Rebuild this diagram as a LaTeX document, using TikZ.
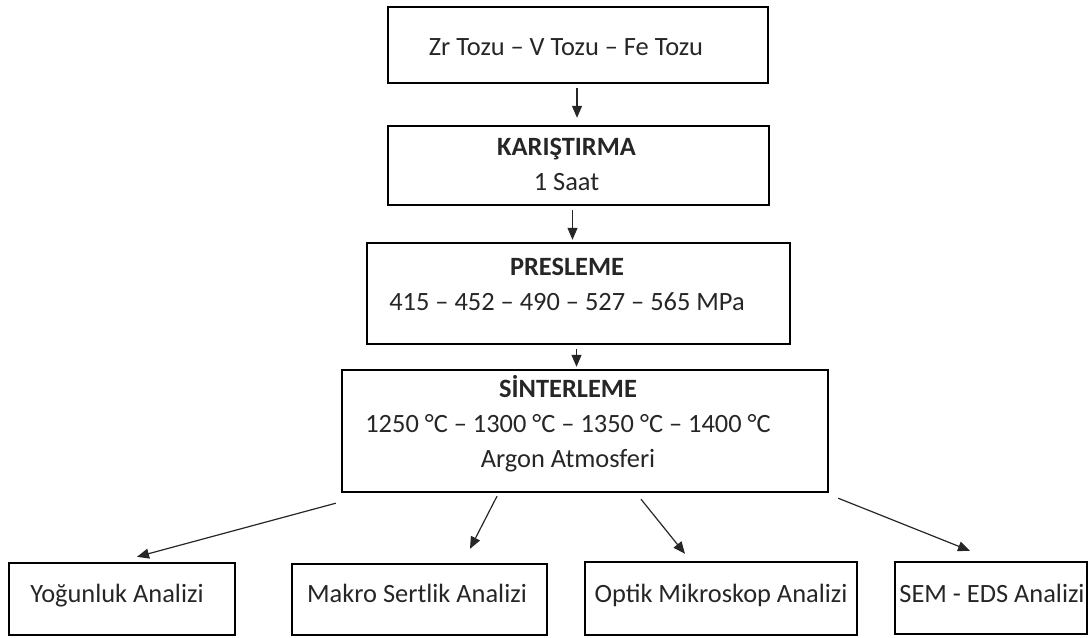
\documentclass[tikz,border=0pt]{standalone}
\usepackage{fontspec}
\setmainfont{Carlito}
\usetikzlibrary{arrows.meta}
\begin{document}
\begin{tikzpicture}[x=1pt,y=-1pt,
  box/.style={draw=black, line width=2.4pt, rectangle, inner sep=0pt},
  txt/.style={inner sep=0pt, align=center, font=\fontsize{26.4}{35}\selectfont, text=black!85},
  one/.style={txt, text height=18pt, text depth=5pt},
  arr/.style={draw=black!85, line width=1.2pt, -{Triangle[length=12pt,width=10pt]}}]
\useasboundingbox (0,0) rectangle (1089,637);
% boxes
\node[box, minimum width=380pt, minimum height=76pt] (b1) at (578,45) {};
\node[box, minimum width=381pt, minimum height=79pt] (b2) at (578.5,165.5) {};
\node[box, minimum width=423pt, minimum height=101pt] (b3) at (578.5,293.5) {};
\node[box, minimum width=486pt, minimum height=122pt] (b4) at (585,431) {};
\node[box, minimum width=226pt, minimum height=72pt] (y1) at (122,599) {};
\node[box, minimum width=255pt, minimum height=71pt] (m1) at (419.5,599.5) {};
\node[box, minimum width=272pt, minimum height=73pt] (o1) at (721,598.5) {};
\node[box, minimum width=192pt, minimum height=72pt] (s1) at (991,598) {};
% texts
\node[one] (t1) at (566,48.5) {Zr Tozu – V Tozu – Fe Tozu};
\node[txt] (t2) at (566.5,164.5) {\textbf{KARIŞTIRMA}\\1 Saat};
\node[txt] (t3) at (567,284) {\textbf{PRESLEME}\\415 – 452 – 490 – 527 – 565 MPa};
\node[txt] (t4) at (568,424) {\textbf{SİNTERLEME}\\1250 °C – 1300 °C – 1350 °C – 1400 °C\\Argon Atmosferi};
\node[one] (ty) at (117,595.5) {Yoğunluk Analizi};
\node[one] (tm) at (417,595.5) {Makro Sertlik Analizi};
\node[one] (to) at (721,595.5) {Optik Mikroskop Analizi};
\node[one] (ts) at (992,595.5) {SEM - EDS Analizi};
% vertical arrows
\draw[arr, shorten <=4pt, shorten >=7pt] ([xshift=-1pt]b1.south) -- ([xshift=-1pt]b1.south |- b2.north);
\draw[arr, shorten <=4pt, shorten >=2pt] ([xshift=-6pt]b2.south) -- ([xshift=-6pt]b2.south |- b3.north);
\draw[arr, shorten <=4pt, shorten >=2pt] ([xshift=-2pt]b3.south) -- ([xshift=-2pt]b3.south |- b4.north);
% diagonal arrows
\draw[arr] ([shift={(-5,10)}]b4.south west) -- ([shift={(15,-5)}]y1.north);
\draw[arr] ([shift={(-88,3)}]b4.south) -- ([shift={(50.5,-14)}]m1.north);
\draw[arr] ([shift={(56,6)}]b4.south) -- ([shift={(-36,-7)}]o1.north);
\draw[arr] ([shift={(9,5)}]b4.south east) -- ([shift={(-21,-10)}]s1.north);
\end{tikzpicture}
\end{document}
